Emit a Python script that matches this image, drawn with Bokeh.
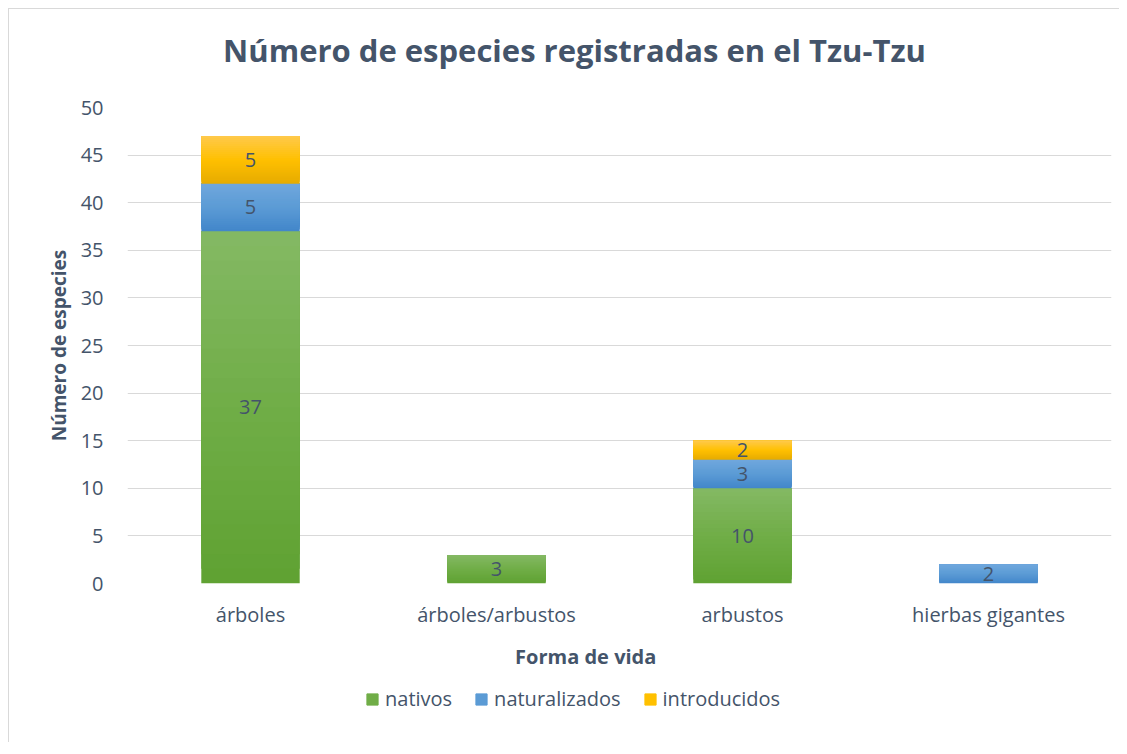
from bokeh.plotting import figure
from bokeh.layouts import column
from bokeh.models import ColumnDataSource, LabelSet, Label, Legend, LegendItem, FactorRange, Range1d
from bokeh.core.properties import value
from bokeh.embed import file_html
from bokeh.resources import INLINE

categories = ["árboles", "árboles/arbustos", "arbustos", "hierbas gigantes"]
nativos = [37, 3, 10, 0]
naturalizados = [5, 0, 3, 2]
introducidos = [5, 0, 2, 0]
series_names = ["nativos", "naturalizados", "introducidos"]
y_ticks = [0, 5, 10, 15, 20, 25, 30, 35, 40, 45, 50]
title_text = "Número de especies registradas en el Tzu-Tzu"

# gradient stops (top, middle, bottom) per series
grad = {
    "nativos": ("#84b964", "#70ad47", "#5fa232"),
    "naturalizados": ("#70a7dd", "#5b9bd5", "#4286ca"),
    "introducidos": ("#ffc94c", "#ffc000", "#e6ab00"),
}

TXT = "#44546A"
FONT = "Open Sans"
NB = "\u00a0"
W = 1110
BL, BR = 118, 8
FW = W - BL - BR  # frame width shared by the aligned column frames

def hex2rgb(h):
    h = h.lstrip("#")
    return tuple(int(h[i:i + 2], 16) for i in (0, 2, 4))

def mix(a, b, t):
    ra, rb = hex2rgb(a), hex2rgb(b)
    return "#%02x%02x%02x" % tuple(round(ra[i] + (rb[i] - ra[i]) * t) for i in range(3))

def grad_color(stops, f):
    top, mid, bot = stops
    if f < 0.5:
        return mix(bot, mid, f / 0.5)
    return mix(mid, top, (f - 0.5) / 0.5)

def strip(h):
    f = figure(width=W, height=h, x_range=Range1d(0, FW), y_range=Range1d(0, h),
               x_axis_type=None, y_axis_type=None,
               output_backend="svg", toolbar_location=None,
               min_border_left=BL, min_border_right=BR,
               min_border_top=0, min_border_bottom=0)
    f.grid.visible = False
    f.outline_line_color = None
    return f

# ---- title strip
tf = strip(75)
tf.add_layout(Label(x=447, y=35, text=title_text, text_align="center",
                    text_baseline="middle", text_font=FONT,
                    text_font_size="31px", text_font_style="bold", text_color=TXT))

# ---- main chart
p = figure(
    x_range=FactorRange(*categories, range_padding=0),
    y_range=Range1d(0, 50),
    width=W, height=588,
    output_backend="svg", toolbar_location=None,
    min_border_left=BL, min_border_right=BR,
    min_border_top=23, min_border_bottom=88,
)

series_vals = [nativos, naturalizados, introducidos]
bottoms = [0] * len(categories)
N = 24
label_x, label_y, label_t = [], [], []
for name, vals in zip(series_names, series_vals):
    stops = grad[name]
    idx = [i for i in range(len(categories)) if vals[i] > 0]
    xs = [categories[i] for i in idx]
    for k in range(N):
        f0 = k / N
        b = [bottoms[i] + vals[i] * f0 for i in idx]
        t = [bottoms[i] + vals[i] for i in idx]
        src = ColumnDataSource(dict(x=xs, b=b, t=t))
        c = grad_color(stops, f0 + 0.5 / N)
        p.vbar(x="x", bottom="b", top="t", width=0.40, source=src,
               fill_color=c, line_color=None)
    for i in idx:
        label_x.append(categories[i])
        label_y.append(bottoms[i] + vals[i] / 2)
        label_t.append(str(vals[i]))
    bottoms = [bottoms[i] + vals[i] for i in range(len(categories))]

lab_src = ColumnDataSource(dict(x=label_x, y=label_y, t=label_t))
p.add_layout(LabelSet(x="x", y="y", text="t", source=lab_src,
                      text_align="center", text_baseline="middle",
                      text_font=value(FONT), text_font_size="20px", text_color=TXT))

p.xgrid.grid_line_color = None
p.ygrid.grid_line_color = "#d9d9d9"
p.ygrid.grid_line_width = 1
p.yaxis.ticker = y_ticks
p.outline_line_color = None

for ax in (p.xaxis, p.yaxis):
    ax.axis_line_color = None
    ax.major_tick_line_color = None
    ax.minor_tick_line_color = None
    ax.major_label_text_font = FONT
    ax.major_label_text_font_size = "20px"
    ax.major_label_text_color = TXT
    ax.axis_label_text_font = FONT
    ax.axis_label_text_font_style = "bold"
    ax.axis_label_text_color = TXT

p.xaxis.axis_label = "Forma de vida" + NB * 13
p.xaxis.axis_label_text_font_size = "20px"
p.xaxis.major_label_standoff = 11
p.xaxis.axis_label_standoff = 12
p.yaxis.axis_label = "Número de especies"
p.yaxis.axis_label_text_font_size = "19px"
p.yaxis.major_label_standoff = 18
p.yaxis.axis_label_standoff = 6

# ---- legend strip
lg = strip(70)
items = []
for name in series_names:
    col = grad[name][1]
    sr = lg.quad(left=[-20], right=[-10], bottom=[-20], top=[-10],
                 fill_color=col, line_color=col)
    items.append(LegendItem(label=name, renderers=[sr]))
legend = Legend(items=items, orientation="horizontal",
                location=(238, 30), border_line_color=None,
                background_fill_alpha=0,
                label_text_font=FONT, label_text_font_size="20px",
                label_text_color=TXT, glyph_width=14, glyph_height=14,
                spacing=22, label_standoff=6, padding=0, margin=0)
lg.add_layout(legend, "center")

layout = column(tf, p, lg, spacing=0,
                styles={"border-left": "1px solid #d9d9d9", "border-top": "1px solid #d9d9d9",
                        "margin-left": "8px", "margin-top": "8px"})

open("out.html", "w").write(file_html(layout, INLINE))
